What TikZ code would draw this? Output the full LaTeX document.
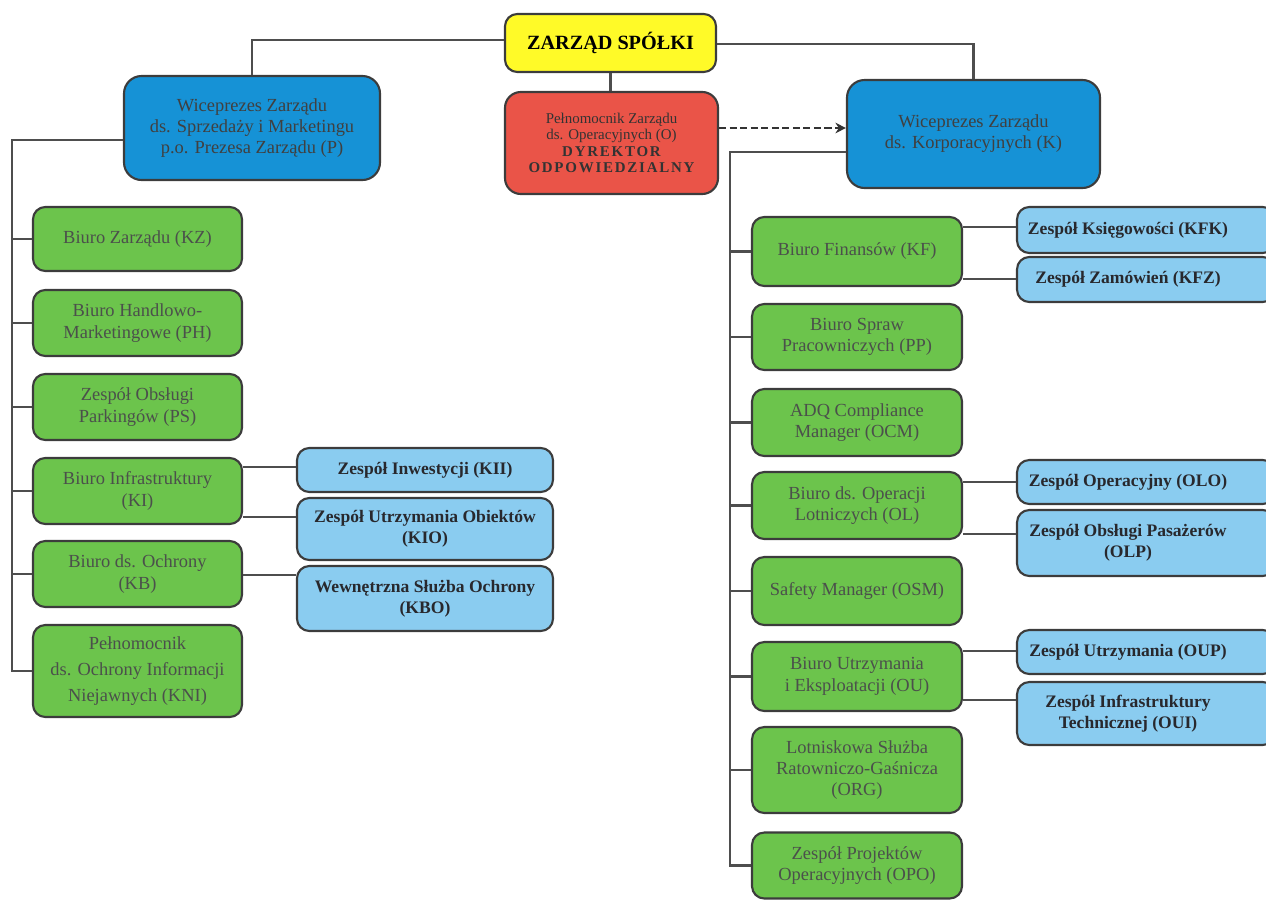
\documentclass[tikz,border=0pt]{standalone}
\usepackage{fontspec}
\setmainfont{Liberation Serif}
\usetikzlibrary{arrows.meta}

\definecolor{boardfill}{RGB}{255,250,40}
\definecolor{vpfill}{RGB}{22,146,214}
\definecolor{dirfill}{RGB}{234,84,72}
\definecolor{unitfill}{RGB}{108,196,76}
\definecolor{teamfill}{RGB}{138,204,240}
\definecolor{edge}{RGB}{60,60,60}
\definecolor{wire}{RGB}{78,78,78}
\definecolor{unittext}{RGB}{75,80,75}
\definecolor{teamtext}{RGB}{40,40,45}

% two-line block shifted left inside boxes cut by the right margin
\newcommand\teamtxt[1]{\begin{tabular}{@{}c@{}}#1\end{tabular}\kern 0.72cm}

\begin{document}
\begin{tikzpicture}[x=0.02cm,y=-0.02cm,
  sz/.style 2 args={minimum width=#1*0.02cm,minimum height=#2*0.02cm},
  orgbox/.style={draw=edge,line width=1.2pt,rounded corners=7pt,inner sep=1pt,align=center},
  board/.style={orgbox,fill=boardfill,font=\fontsize{11.5}{13}\selectfont\bfseries,text=black},
  vp/.style={orgbox,fill=vpfill,rounded corners=10pt,font=\fontsize{10.5}{12}\selectfont,text=black!75},
  director/.style={orgbox,fill=dirfill,rounded corners=9pt,text=black!80},
  unit/.style={orgbox,fill=unitfill,font=\fontsize{10.5}{12.2}\selectfont,text=unittext},
  team/.style={orgbox,fill=teamfill,font=\fontsize{10}{12}\selectfont\bfseries,text=teamtext},
  wires/.style={draw=wire,line width=1.6pt},
  delegate/.style={draw=black!80,line width=1.5pt,dash pattern=on 4pt off 2pt,-{Stealth[length=6pt,width=6pt]}}
]
\useasboundingbox (0,0) rectangle (1266,899);
\clip (0,0) rectangle (1266,899);

% top level
\node[board,sz={211}{58}] (zarz) at (610.5,43) {ZARZĄD SPÓŁKI};
\node[vp,sz={256}{104}] (lb) at (252,128) {Wiceprezes Zarządu\\ds. Sprzedaży i Marketingu\\p.o. Prezesa Zarządu (P)};
\node[director,sz={213}{102},font=\fontsize{8.5}{9}\selectfont] (red) at (611.5,143)
  {Pełnomocnik Zarządu\\
   ds. Operacyjnych (O)\\[1pt]
   {\bfseries\addfontfeature{LetterSpace=12}DYREKTOR}\\
   {\bfseries\addfontfeature{LetterSpace=12}ODPOWIEDZIALNY}};
\node[vp,sz={253}{108}] (rb) at (973.5,134) {Wiceprezes Zarządu\\ds. Korporacyjnych (K)};

% sales and marketing branch
\node[unit,sz={209}{64}] (kz)  at (137.5,239) {Biuro Zarządu (KZ)};
\node[unit,sz={209}{66}] (ph)  at (137.5,323) {Biuro Handlowo-\\Marketingowe (PH)};
\node[unit,sz={209}{66}] (ps)  at (137.5,407) {Zespół Obsługi\\Parkingów (PS)};
\node[unit,sz={209}{66}] (ki)  at (137.5,491) {Biuro Infrastruktury\\(KI)};
\node[unit,sz={209}{66}] (kb)  at (137.5,574) {Biuro ds. Ochrony\\(KB)};
\node[unit,sz={209}{92},font=\fontsize{10.5}{15}\selectfont] (kni) at (137.5,671) {Pełnomocnik\\ds. Ochrony Informacji\\Niejawnych (KNI)};

\node[team,sz={256}{44}] (kii) at (425,470) {Zespół Inwestycji (KII)};
\node[team,sz={256}{62}] (kio) at (425,529) {Zespół Utrzymania Obiektów\\(KIO)};
\node[team,sz={256}{65}] (kbo) at (425,598.5) {Wewnętrzna Służba Ochrony\\(KBO)};

% corporate branch
\node[unit,sz={210}{69}] (kf)  at (857,251.5) {Biuro Finansów (KF)};
\node[unit,sz={210}{66}] (pp)  at (857,337) {Biuro Spraw\\Pracowniczych (PP)};
\node[unit,sz={210}{67}] (ocm) at (857,422.5) {ADQ Compliance\\Manager (OCM)};
\node[unit,sz={210}{67}] (ol)  at (857,505.5) {Biuro ds. Operacji\\Lotniczych (OL)};
\node[unit,sz={210}{68}] (osm) at (857,591) {Safety Manager (OSM)};
\node[unit,sz={210}{69}] (ou)  at (857,676.5) {Biuro Utrzymania\\i Eksploatacji (OU)};
\node[unit,sz={210}{86}] (org) at (857,770) {Lotniskowa Służba\\Ratowniczo-Gaśnicza\\(ORG)};
\node[unit,sz={210}{66}] (opo) at (857,865.5) {Zespół Projektów\\Operacyjnych (OPO)};

\node[team,sz={258}{46}] (kfk) at (1146,230) {\teamtxt{Zespół Księgowości (KFK)}};
\node[team,sz={258}{45}] (kfz) at (1146,279.5) {\teamtxt{Zespół Zamówień (KFZ)}};
\node[team,sz={258}{44}] (olo) at (1146,482) {\teamtxt{Zespół Operacyjny (OLO)}};
\node[team,sz={258}{66}] (olp) at (1146,543) {\teamtxt{Zespół Obsługi Pasażerów\\(OLP)}};
\node[team,sz={258}{44}] (oup) at (1146,652) {\teamtxt{Zespół Utrzymania (OUP)}};
\node[team,sz={258}{63}] (oui) at (1146,713.5) {\teamtxt{Zespół Infrastruktury\\Technicznej (OUI)}};

% reporting lines from the board
\draw[wires] (zarz.west|-0,40) -| (lb.north);
\draw[wires] (zarz.east|-0,44) -| (rb.north);
\draw[wires] (zarz.south) -- (zarz.south|-red.north);
\draw[delegate] (red.east|-0,128) -- (rb.west|-0,128);

% left spine
\coordinate (ls) at (12,140);
\draw[wires] (lb.west|-ls) -- (ls) -- (ls|-kni.west) -- (kni.west);
\foreach \n in {kz,ph,ps,ki,kb} \draw[wires] (\n.west) -- (\n.west-|ls);
\draw[wires] (ki.east|-0,467) -- (kii.west|-0,467);
\draw[wires] (ki.east|-0,517) -- (kio.west|-0,517);
\draw[wires] (kb.east|-0,575) -- (kbo.west|-0,575);

% right spine
\coordinate (rs) at (730,152);
\draw[wires] (rb.west|-rs) -- (rs) -- (rs|-opo.west) -- (opo.west);
\foreach \n in {kf,pp,ocm,ol,osm,ou,org} \draw[wires] (\n.west) -- (\n.west-|rs);
\draw[wires] (kf.east|-0,227) -- (kfk.west|-0,227);
\draw[wires] (kf.east|-0,279) -- (kfz.west|-0,279);
\draw[wires] (ol.east|-0,482) -- (olo.west|-0,482);
\draw[wires] (ol.east|-0,534) -- (olp.west|-0,534);
\draw[wires] (ou.east|-0,651) -- (oup.west|-0,651);
\draw[wires] (ou.east|-0,700) -- (oui.west|-0,700);
\end{tikzpicture}
\end{document}
